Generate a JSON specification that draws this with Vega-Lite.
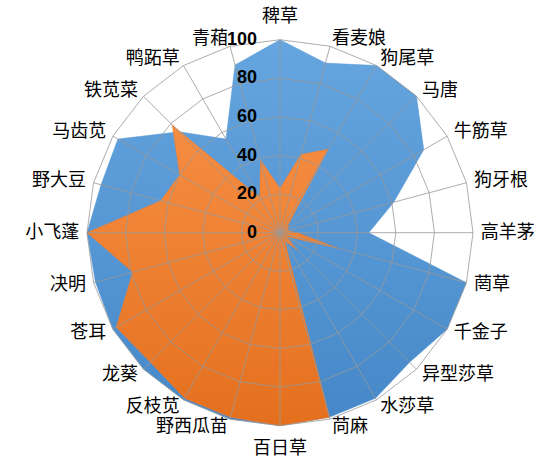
{
  "$schema": "https://vega.github.io/schema/vega-lite/v6.json",
  "width": 557,
  "height": 465,
  "padding": 0,
  "autosize": {"type": "none"},
  "background": "white",
  "config": {"view": {"stroke": null}},
  "datasets": {
    "weeds": [
      {"idx": 0, "name": "稗草", "blue": 100, "orange": 23},
      {"idx": 1, "name": "看麦娘", "blue": 91, "orange": 42},
      {"idx": 2, "name": "狗尾草", "blue": 100, "orange": 50},
      {"idx": 3, "name": "马唐", "blue": 100, "orange": 6},
      {"idx": 4, "name": "牛筋草", "blue": 86, "orange": 5},
      {"idx": 5, "name": "狗牙根", "blue": 61, "orange": 4},
      {"idx": 6, "name": "高羊茅", "blue": 46, "orange": 9},
      {"idx": 7, "name": "菵草", "blue": 100, "orange": 31},
      {"idx": 8, "name": "千金子", "blue": 100, "orange": 4},
      {"idx": 9, "name": "异型莎草", "blue": 95, "orange": 13},
      {"idx": 10, "name": "水莎草", "blue": 99, "orange": 5},
      {"idx": 11, "name": "苘麻", "blue": 99, "orange": 99},
      {"idx": 12, "name": "百日草", "blue": 100, "orange": 100},
      {"idx": 13, "name": "野西瓜苗", "blue": 100, "orange": 99},
      {"idx": 14, "name": "反枝苋", "blue": 100, "orange": 99},
      {"idx": 15, "name": "龙葵", "blue": 100, "orange": 95},
      {"idx": 16, "name": "苍耳", "blue": 100, "orange": 98},
      {"idx": 17, "name": "决明", "blue": 99, "orange": 79},
      {"idx": 18, "name": "小飞蓬", "blue": 100, "orange": 100},
      {"idx": 19, "name": "野大豆", "blue": 96, "orange": 64},
      {"idx": 20, "name": "马齿苋", "blue": 97, "orange": 60},
      {"idx": 21, "name": "铁苋菜", "blue": 74, "orange": 79},
      {"idx": 22, "name": "鸭跖草", "blue": 56, "orange": 21},
      {"idx": 23, "name": "青葙", "blue": 90, "orange": 39}
    ],
    "levels": [
      {"v": 0}, {"v": 20}, {"v": 40}, {"v": 60}, {"v": 80}, {"v": 100}
    ]
  },
  "data": {"name": "weeds"},
  "transform": [{"calculate": "datum.idx * PI / 12", "as": "t"}],
  "layer": [
    {
      "transform": [
        {"calculate": "datum.blue * sin(datum.t)", "as": "px"},
        {"calculate": "datum.blue * cos(datum.t)", "as": "py"}
      ],
      "mark": {
        "type": "line",
        "interpolate": "linear-closed",
        "filled": true,
        "fill": {"gradient": "linear", "x1": 0, "y1": 0, "x2": 0, "y2": 1,
          "stops": [{"offset": 0, "color": "#65A6E0"}, {"offset": 1, "color": "#4687C8"}]},
        "stroke": "#5B9BD5",
        "strokeWidth": 0.5
      },
      "encoding": {
        "x": {"field": "px", "type": "quantitative", "scale": {"domain": [-145.08, 143.52], "nice": false, "zero": false}, "axis": null},
        "y": {"field": "py", "type": "quantitative", "scale": {"domain": [-120.36, 120.57], "nice": false, "zero": false}, "axis": null},
        "order": {"field": "idx", "type": "quantitative"}
      }
    },
    {
      "transform": [
        {"calculate": "datum.orange * sin(datum.t)", "as": "px"},
        {"calculate": "datum.orange * cos(datum.t)", "as": "py"}
      ],
      "mark": {
        "type": "line",
        "interpolate": "linear-closed",
        "filled": true,
        "fill": {"gradient": "linear", "x1": 0, "y1": 0, "x2": 0, "y2": 1,
          "stops": [{"offset": 0, "color": "#F68D42"}, {"offset": 1, "color": "#E4701E"}]},
        "stroke": "#ED7D31",
        "strokeWidth": 0.5
      },
      "encoding": {
        "x": {"field": "px", "type": "quantitative", "scale": {"domain": [-145.08, 143.52], "nice": false, "zero": false}, "axis": null},
        "y": {"field": "py", "type": "quantitative", "scale": {"domain": [-120.36, 120.57], "nice": false, "zero": false}, "axis": null},
        "order": {"field": "idx", "type": "quantitative"}
      }
    },
    {
      "transform": [
        {"calculate": "20", "as": "g20"},
        {"calculate": "40", "as": "g40"},
        {"calculate": "60", "as": "g60"},
        {"calculate": "80", "as": "g80"},
        {"calculate": "100", "as": "g100"},
        {"fold": ["g20", "g40", "g60", "g80", "g100"], "as": ["ring", "lv"]},
        {"calculate": "datum.lv * sin(datum.t)", "as": "gx"},
        {"calculate": "datum.lv * cos(datum.t)", "as": "gy"}
      ],
      "mark": {"type": "line", "interpolate": "linear-closed", "stroke": "#999999", "strokeWidth": 1, "opacity": 0.8},
      "encoding": {
        "x": {"field": "gx", "type": "quantitative", "scale": {"domain": [-145.08, 143.52], "nice": false, "zero": false}, "axis": null},
        "y": {"field": "gy", "type": "quantitative", "scale": {"domain": [-120.36, 120.57], "nice": false, "zero": false}, "axis": null},
        "detail": {"field": "ring", "type": "nominal"},
        "order": {"field": "idx", "type": "quantitative"}
      }
    },
    {
      "transform": [
        {"calculate": "100 * sin(datum.t)", "as": "sx"},
        {"calculate": "100 * cos(datum.t)", "as": "sy"}
      ],
      "mark": {"type": "rule", "stroke": "#999999", "strokeWidth": 1, "opacity": 0.8},
      "encoding": {
        "x": {"field": "sx", "type": "quantitative", "scale": {"domain": [-145.08, 143.52], "nice": false, "zero": false}, "axis": null},
        "y": {"field": "sy", "type": "quantitative", "scale": {"domain": [-120.36, 120.57], "nice": false, "zero": false}, "axis": null},
        "x2": {"datum": 0},
        "y2": {"datum": 0}
      }
    },
    {
      "data": {"name": "levels"},
      "mark": {"type": "text", "align": "right", "baseline": "middle", "dx": -23, "font": "Liberation Sans", "fontSize": 18, "fontWeight": "bold", "color": "#000000"},
      "encoding": {
        "x": {"datum": 0, "type": "quantitative", "scale": {"domain": [-145.08, 143.52], "nice": false, "zero": false}, "axis": null},
        "y": {"field": "v", "type": "quantitative", "scale": {"domain": [-120.36, 120.57], "nice": false, "zero": false}, "axis": null},
        "text": {"field": "v", "type": "nominal"}
      }
    },
    {
      "transform": [
        {"filter": "datum.idx > 0 && datum.idx < 12"},
        {"calculate": "104 * sin(datum.t)", "as": "lx"},
        {"calculate": "104 * cos(datum.t)", "as": "ly"}
      ],
      "mark": {"type": "text", "align": "left", "baseline": "middle", "font": "Noto Sans CJK SC", "fontSize": 18, "color": "#000000"},
      "encoding": {
        "x": {"field": "lx", "type": "quantitative", "scale": {"domain": [-145.08, 143.52], "nice": false, "zero": false}, "axis": null},
        "y": {"field": "ly", "type": "quantitative", "scale": {"domain": [-120.36, 120.57], "nice": false, "zero": false}, "axis": null},
        "text": {"field": "name", "type": "nominal"}
      }
    },
    {
      "transform": [
        {"filter": "datum.idx > 12"},
        {"calculate": "104 * sin(datum.t)", "as": "lx"},
        {"calculate": "104 * cos(datum.t)", "as": "ly"}
      ],
      "mark": {"type": "text", "align": "right", "baseline": "middle", "font": "Noto Sans CJK SC", "fontSize": 18, "color": "#000000"},
      "encoding": {
        "x": {"field": "lx", "type": "quantitative", "scale": {"domain": [-145.08, 143.52], "nice": false, "zero": false}, "axis": null},
        "y": {"field": "ly", "type": "quantitative", "scale": {"domain": [-120.36, 120.57], "nice": false, "zero": false}, "axis": null},
        "text": {"field": "name", "type": "nominal"}
      }
    },
    {
      "transform": [
        {"filter": "datum.idx == 0 || datum.idx == 12"},
        {"calculate": "112 * sin(datum.t)", "as": "lx"},
        {"calculate": "112 * cos(datum.t)", "as": "ly"}
      ],
      "mark": {"type": "text", "align": "center", "baseline": "middle", "font": "Noto Sans CJK SC", "fontSize": 18, "color": "#000000"},
      "encoding": {
        "x": {"field": "lx", "type": "quantitative", "scale": {"domain": [-145.08, 143.52], "nice": false, "zero": false}, "axis": null},
        "y": {"field": "ly", "type": "quantitative", "scale": {"domain": [-120.36, 120.57], "nice": false, "zero": false}, "axis": null},
        "text": {"field": "name", "type": "nominal"}
      }
    }
  ]
}
